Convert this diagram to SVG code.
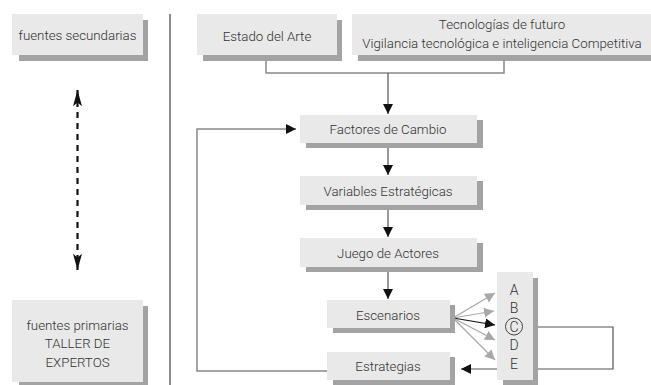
<svg xmlns="http://www.w3.org/2000/svg" width="651" height="385" viewBox="0 0 651 385">
<style>
.box{fill:#e8e9e8}
.sh{fill:#a3a3a3}
.t{font-family:Roboto,"Liberation Sans",sans-serif;font-size:13.3px;font-weight:300;fill:#333;text-anchor:middle}
.l{font-size:14px}
.ln{fill:none;stroke:#555;stroke-width:1.2}
.gl{fill:none;stroke:#888;stroke-width:1.5}
.fan{fill:none;stroke:#a8a8a8;stroke-width:1.2}
</style>
<defs>
<marker id="ah" viewBox="0 0 10 10" refX="10" refY="5" markerWidth="10" markerHeight="10" markerUnits="userSpaceOnUse" orient="auto"><path d="M0,0 L10,5 L0,10 z" fill="#111"/></marker>
<marker id="ahg" viewBox="0 0 10 10" refX="10" refY="5" markerWidth="10" markerHeight="10" markerUnits="userSpaceOnUse" orient="auto"><path d="M0,0 L10,5 L0,10 z" fill="#a8a8a8"/></marker>
<marker id="ahd" viewBox="0 0 18 10" refX="18" refY="5" markerWidth="17" markerHeight="9" markerUnits="userSpaceOnUse" orient="auto-start-reverse"><path d="M0,0 L18,5 L0,10 L4,5 z" fill="#111"/></marker>
</defs>
<rect width="651" height="385" fill="#fff"/>
<line x1="170" y1="14" x2="170" y2="385" stroke="#666" stroke-width="1.5"/>
<g id="connectors">
<path class="gl" d="M266,60 V73 H504 V60"/>
<line class="ln" x1="388" y1="73" x2="388" y2="114" marker-end="url(#ah)"/>
<line class="ln" x1="388" y1="148" x2="388" y2="175" marker-end="url(#ah)"/>
<line class="ln" x1="388" y1="210" x2="388" y2="237" marker-end="url(#ah)"/>
<line class="ln" x1="388" y1="272" x2="388" y2="299" marker-end="url(#ah)"/>
<path class="gl" d="M327,371 H197 V129 H296" marker-end="url(#ah)"/>
<line class="fan" x1="453" y1="318" x2="495" y2="293" marker-end="url(#ahg)"/>
<line class="fan" x1="453" y1="318" x2="494" y2="311" marker-end="url(#ahg)"/>
<line x1="453" y1="318" x2="495" y2="325" stroke="#111" stroke-width="1.2" marker-end="url(#ah)"/>
<line class="fan" x1="453" y1="318" x2="495" y2="340" marker-end="url(#ahg)"/>
<line class="fan" x1="453" y1="318" x2="495" y2="360" marker-end="url(#ahg)"/>
<path class="ln" d="M533,327 H613 V369 H533"/>
<line class="ln" x1="497" y1="369" x2="461" y2="369" marker-end="url(#ah)"/>
<line x1="77.5" y1="90" x2="77.5" y2="270" stroke="#111" stroke-width="2.2" stroke-dasharray="6,5" marker-start="url(#ahd)" marker-end="url(#ahd)"/>
</g>
<g id="fuentes-secundarias">
<rect class="sh" x="19" y="20" width="129" height="41"/>
<rect class="box" x="12" y="14" width="131" height="41"/>
<text class="t" x="77.5" y="40">fuentes secundarias</text>
</g>
<g id="fuentes-primarias">
<rect class="sh" x="19" y="306" width="129" height="79"/>
<rect class="box" x="12" y="300" width="131" height="82"/>
<text class="t" x="77.5" y="330">fuentes primarias</text>
<text class="t" x="77.5" y="348">TALLER DE</text>
<text class="t" x="77.5" y="367">EXPERTOS</text>
</g>
<g id="estado-arte">
<rect class="sh" x="203" y="20" width="139" height="41"/>
<rect class="box" x="197" y="14" width="140" height="41"/>
<text class="t" x="267" y="41">Estado del Arte</text>
</g>
<g id="tecnologias">
<rect class="sh" x="358" y="20" width="300" height="41"/>
<rect class="box" x="352" y="14" width="300" height="41"/>
<text class="t" x="502" y="29">Tecnologías de futuro</text>
<text class="t" x="502" y="48">Vigilancia tecnológica e inteligencia Competitiva</text>
</g>
<g id="factores">
<rect class="sh" x="306" y="120" width="177" height="28"/>
<rect class="box" x="300" y="115" width="177" height="28"/>
<text class="t" x="388" y="134">Factores de Cambio</text>
</g>
<g id="variables">
<rect class="sh" x="306" y="181" width="177" height="29"/>
<rect class="box" x="300" y="176" width="177" height="29"/>
<text class="t" x="388" y="196">Variables Estratégicas</text>
</g>
<g id="juego">
<rect class="sh" x="306" y="243" width="177" height="29"/>
<rect class="box" x="300" y="238" width="177" height="29"/>
<text class="t" x="388" y="258">Juego de Actores</text>
</g>
<g id="escenarios">
<rect class="sh" x="333" y="305" width="122" height="28"/>
<rect class="box" x="327" y="300" width="123" height="28"/>
<text class="t" x="388" y="320">Escenarios</text>
</g>
<g id="estrategias">
<rect class="sh" x="333" y="357" width="122" height="28"/>
<rect class="box" x="327" y="352" width="123" height="28"/>
<text class="t" x="388" y="371">Estrategias</text>
</g>
<g id="abcde">
<rect class="sh" x="503" y="278" width="35" height="107"/>
<rect class="box" x="497" y="272" width="36" height="108"/>
<text class="t l" x="514" y="295">A</text>
<text class="t l" x="514" y="313">B</text>
<circle cx="514" cy="326.5" r="8.5" fill="none" stroke="#444" stroke-width="1"/>
<text class="t l" x="514" y="331.5">C</text>
<text class="t l" x="514" y="350">D</text>
<text class="t l" x="514" y="369">E</text>
</g>
</svg>
